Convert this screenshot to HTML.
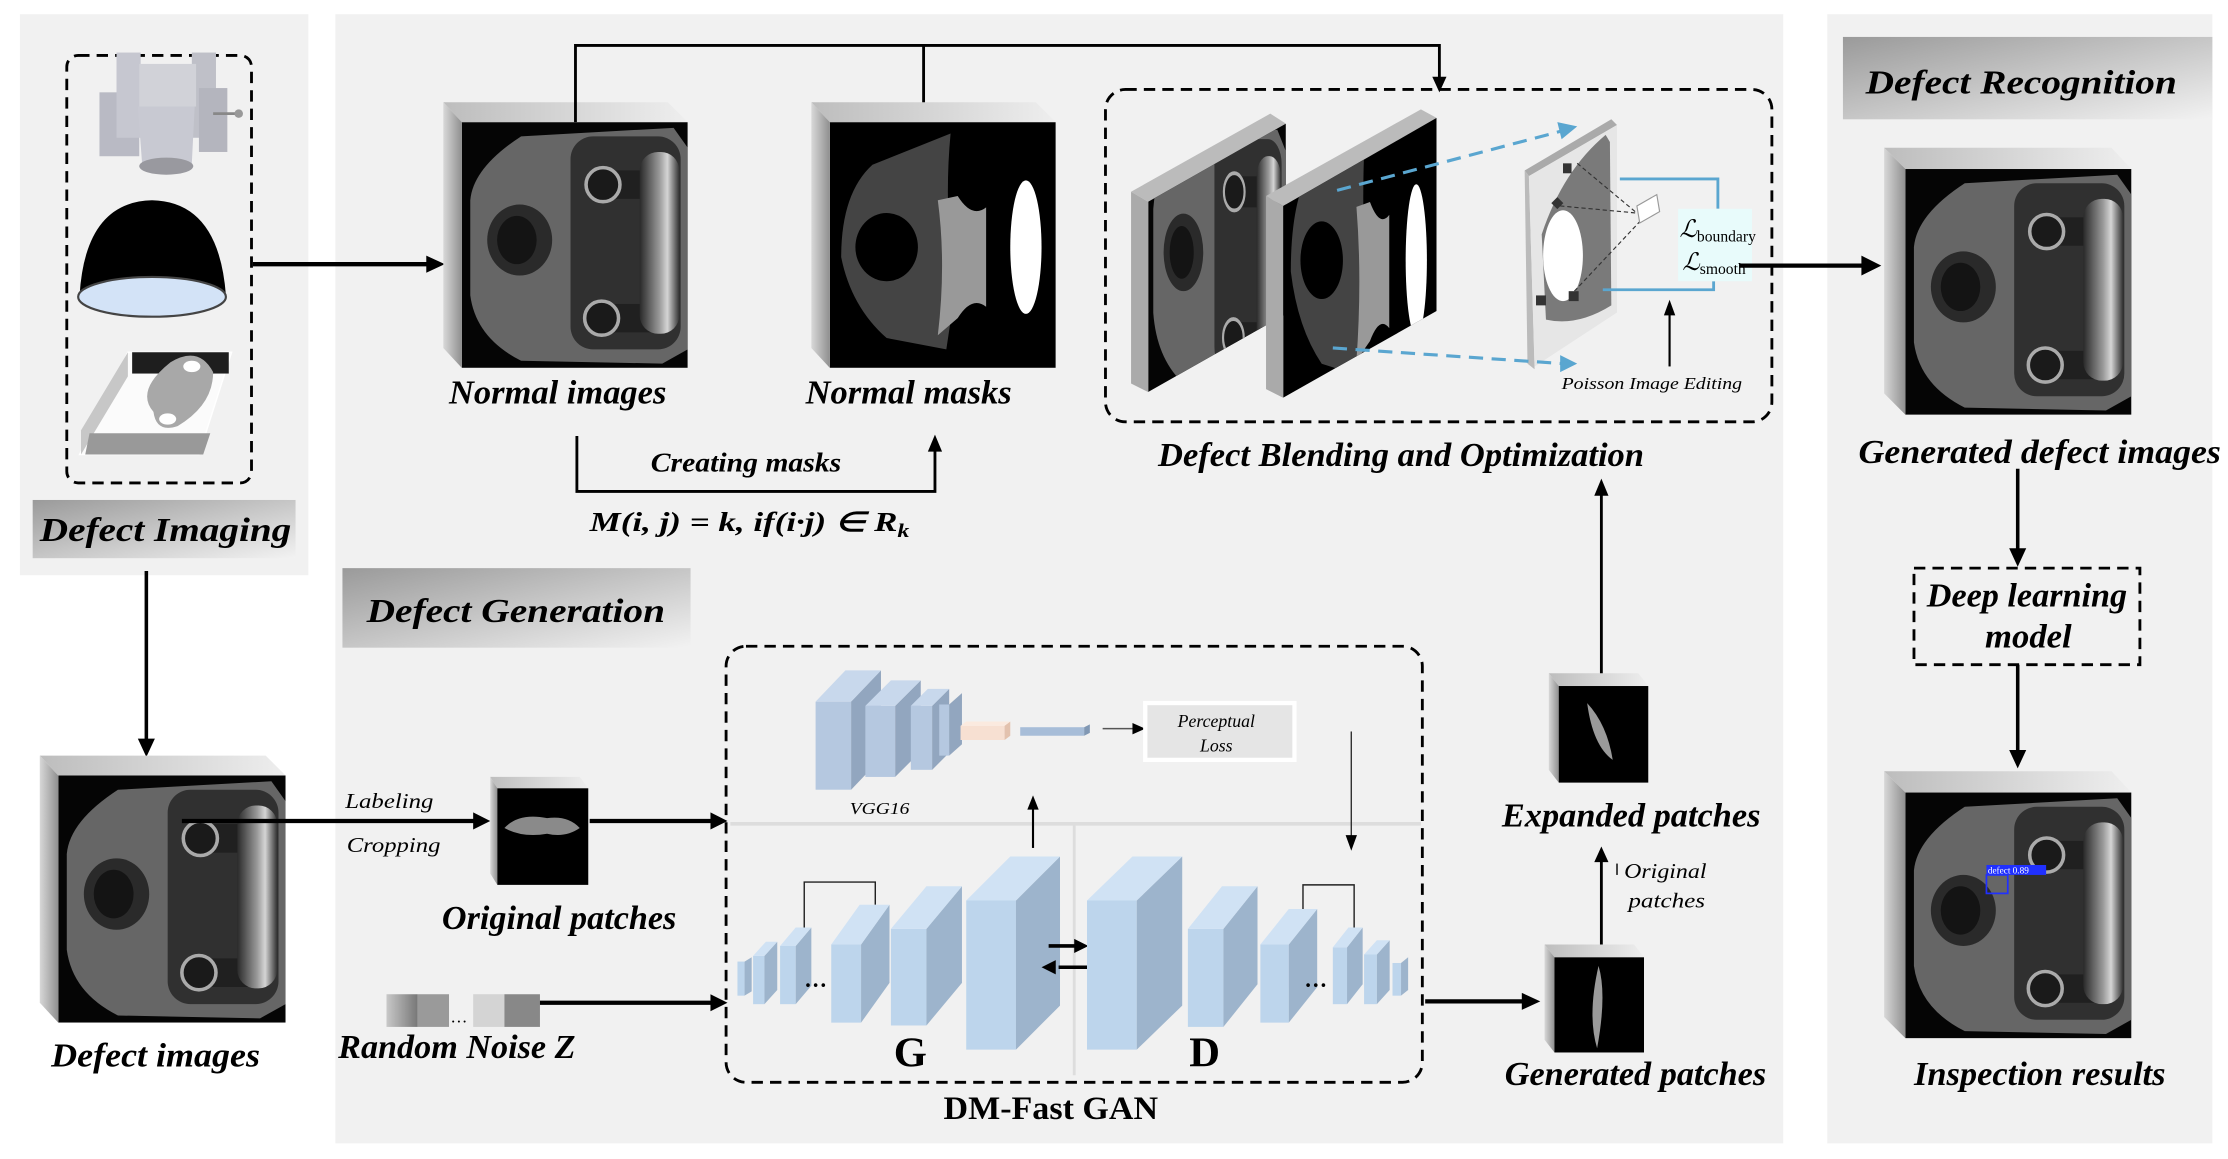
<!DOCTYPE html>
<html><head><meta charset="utf-8"><style>
html,body{margin:0;padding:0;background:#fff;}
svg{display:block;}
text{font-family:"Liberation Serif",serif;}
.lb{font-weight:bold;font-style:italic;font-size:24px;fill:#000;}
.it{font-style:italic;font-size:15px;fill:#000;}
</style></head><body>
<svg width="2228" height="1159" viewBox="0 0 1568 816" preserveAspectRatio="none" xmlns="http://www.w3.org/2000/svg">
<defs>
<linearGradient id="lab" x1="0" y1="0" x2="1" y2="1"><stop offset="0" stop-color="#9a9a9a"/><stop offset="1" stop-color="#f2f2f2"/></linearGradient>
<linearGradient id="topf" x1="0" y1="0" x2="1" y2="0"><stop offset="0" stop-color="#bdbdbd"/><stop offset="1" stop-color="#eeeeee"/></linearGradient>
<linearGradient id="leftf" x1="0" y1="0" x2="1" y2="0"><stop offset="0" stop-color="#d8d8d8"/><stop offset="1" stop-color="#8f8f8f"/></linearGradient>
<linearGradient id="nz" x1="0" y1="0" x2="1" y2="0"><stop offset="0" stop-color="#c8c8c8"/><stop offset="1" stop-color="#777"/></linearGradient>
<linearGradient id="hand" x1="0" y1="0" x2="1" y2="0"><stop offset="0" stop-color="#2a2a2a"/><stop offset="0.5" stop-color="#9a9a9a"/><stop offset="0.7" stop-color="#d5d5d5"/><stop offset="1" stop-color="#333"/></linearGradient>
<symbol id="part" viewBox="0 0 160 173" preserveAspectRatio="none">
<rect width="160" height="173" fill="#050505"/>
<path d="M6,55 Q8,32 42,10 L150,4 L160,18 L160,160 L142,170 L42,168 Q10,152 6,122Z" fill="#666"/>
<ellipse cx="41" cy="83" rx="23" ry="25" fill="#2a2a2a"/>
<ellipse cx="39" cy="83" rx="14" ry="17" fill="#141414"/>
<rect x="77" y="10" width="78" height="150" rx="16" fill="#303030"/>
<rect x="98" y="34" width="38" height="20" fill="#202020"/>
<rect x="98" y="128" width="38" height="20" fill="#202020"/>
<circle cx="100" cy="44" r="12" fill="#1a1a1a" stroke="#aaa" stroke-width="2.5"/>
<circle cx="99" cy="138" r="12" fill="#1a1a1a" stroke="#aaa" stroke-width="2.5"/>
<rect x="126" y="21" width="28" height="128" rx="13" fill="url(#hand)"/>
</symbol>
<symbol id="mask" viewBox="0 0 159 173" preserveAspectRatio="none">
<rect width="159" height="173" fill="#000"/>
<path d="M85,8 Q80,60 88,120 L82,160 L40,152 Q15,130 8,95 Q8,50 30,30Z" fill="#444"/>
<path d="M76,55 L90,52 Q100,68 110,60 L110,130 Q100,122 90,138 L76,150 Q82,100 76,55Z" fill="#999"/>
<ellipse cx="40" cy="88" rx="22" ry="24" fill="#000"/>
<ellipse cx="138" cy="88" rx="11" ry="47" fill="#fff"/>
</symbol>
</defs>

<rect x="14" y="10" width="203" height="395" fill="#f1f1f1"/>
<rect x="236" y="10" width="1019" height="795" fill="#f1f1f1"/>
<rect x="1286" y="10" width="271" height="795" fill="#f1f1f1"/>

<rect x="47" y="39" width="130" height="301" rx="8" fill="none" stroke="#000" stroke-width="2" stroke-dasharray="8 5"/>
<g>
<rect x="70" y="65" width="28" height="45" fill="#b9bac4"/>
<rect x="82" y="37" width="17" height="60" fill="#c6c7d0"/>
<rect x="135" y="37" width="17" height="60" fill="#bfc0c8"/>
<rect x="140" y="62" width="20" height="45" fill="#b4b5be"/>
<rect x="98" y="45" width="40" height="30" fill="#d1d2d8"/>
<path d="M97,75 L137,75 L135,115 L100,115Z" fill="#c8c9d2"/>
<ellipse cx="117" cy="117" rx="19" ry="6" fill="#99999f"/>
<line x1="150" y1="80" x2="168" y2="80" stroke="#888" stroke-width="2"/>
<circle cx="168" cy="80" r="3" fill="#999"/>
</g>
<path d="M56,208 Q60,142 107,141 Q154,142 159,208Z" fill="#000"/>
<ellipse cx="107" cy="209" rx="52" ry="14" fill="#d3e3f7" stroke="#444" stroke-width="1.5"/>
<path d="M90,248 L163,248 L140,320 L56,320Z" fill="#fbfbfb" stroke="#fff"/>
<rect x="93" y="248" width="68" height="15" fill="#1e1e1e"/>
<path d="M90,248 L57,303 L57,320 L90,265Z" fill="#c7c7c7"/>
<path d="M63,305 L148,305 L143,320 L60,320Z" fill="#999"/>
<path d="M108,290 Q95,275 120,255 Q140,243 150,262 Q150,285 125,300 Q110,305 108,290Z" fill="#a8a8a8"/>
<ellipse cx="135" cy="258" rx="6" ry="4" fill="#fff"/><ellipse cx="118" cy="295" rx="6" ry="4" fill="#fff"/>

<rect x="23" y="352" width="185" height="41" fill="url(#lab)"/>
<text class="lb" x="28" y="381" font-size="26" textLength="177" lengthAdjust="spacingAndGlyphs">Defect Imaging</text>

<line x1="103" y1="402" x2="103" y2="522" stroke="#000" stroke-width="2.5"/>
<path d="M97,520 L103,533 L109,520Z" fill="#000"/>

<path d="M28,532 L187,532 L201,546 L41,546Z" fill="url(#topf)"/>
<path d="M28,532 L41,546 L41,720 L28,706Z" fill="url(#leftf)"/>
<use href="#part" x="41" y="546" width="160" height="174"/>
<text class="lb" x="36" y="751" textLength="147" lengthAdjust="spacingAndGlyphs">Defect  images</text>

<line x1="178" y1="186" x2="302" y2="186" stroke="#000" stroke-width="3"/>
<path d="M300,180 L313,186 L300,192Z" fill="#000"/>

<path d="M312,72 L470,72 L484,86 L325,86Z" fill="url(#topf)"/>
<path d="M312,72 L325,86 L325,259 L312,245Z" fill="url(#leftf)"/>
<use href="#part" x="325" y="86" width="159" height="173"/>
<text class="lb" x="316" y="284" textLength="153" lengthAdjust="spacingAndGlyphs">Normal images</text>

<path d="M571,72 L729,72 L743,86 L584,86Z" fill="url(#topf)"/>
<path d="M571,72 L584,86 L584,259 L571,245Z" fill="url(#leftf)"/>
<use href="#mask" x="584" y="86" width="159" height="173"/>
<text class="lb" x="567" y="284" textLength="145" lengthAdjust="spacingAndGlyphs">Normal masks</text>

<polyline points="405,86 405,32 1013,32 1013,56" fill="none" stroke="#000" stroke-width="2"/>
<line x1="650" y1="32" x2="650" y2="72" stroke="#000" stroke-width="2"/>
<path d="M1008,54 L1013,65 L1018,54Z" fill="#000"/>

<polyline points="406,307 406,346 658,346 658,316" fill="none" stroke="#000" stroke-width="2"/>
<path d="M653,318 L658,306 L663,318Z" fill="#000"/>
<text x="458" y="332" font-size="19" font-style="italic" font-weight="bold" textLength="134" lengthAdjust="spacingAndGlyphs">Creating masks</text>
<text x="415" y="374" font-size="19" font-style="italic" font-weight="bold" textLength="225" lengthAdjust="spacingAndGlyphs">M(i,  j) = k, if(i·j) ∈ R<tspan font-size="13" dy="4">k</tspan></text>

<rect x="778" y="63" width="469" height="234" rx="14" fill="none" stroke="#000" stroke-width="2" stroke-dasharray="8 5"/>
<path d="M796,135 L894,80 L905,87 L808,142Z" fill="#bbb"/>
<path d="M796,135 L808,142 L808,276 L796,270Z" fill="#aaa"/>
<clipPath id="cp1"><path d="M808,142 L905,87 L905,221 L808,276Z"/></clipPath>
<g clip-path="url(#cp1)"><use href="#part" x="808" y="87" width="97" height="189"/></g>
<path d="M891,138 L1000,77 L1011,83 L903,145Z" fill="#bbb"/>
<path d="M891,138 L903,145 L903,280 L891,274Z" fill="#aaa"/>
<clipPath id="cp2"><path d="M903,145 L1011,83 L1011,219 L903,280Z"/></clipPath>
<g clip-path="url(#cp2)"><use href="#mask" x="903" y="83" width="108" height="197"/></g>
<path d="M1073,120 L1134,84 L1138,88 L1076,124Z" fill="#aaa"/>
<path d="M1073,120 L1076,124 L1080,260 L1075,256Z" fill="#bbb"/>
<path d="M1076,124 L1138,88 L1138,220 L1080,258Z" fill="#e6e6e6"/>
<path d="M1085,165 Q1100,120 1130,95 L1133,100 L1134,215 Q1110,230 1088,225 Z" fill="#7a7a7a"/>
<ellipse cx="1100" cy="180" rx="14" ry="32" fill="#fff"/>
<rect x="1100" y="115" width="6" height="7" fill="#333"/><rect x="1093" y="140" width="6" height="6" fill="#333" transform="rotate(45 1096 143)"/>
<rect x="1081" y="208" width="7" height="7" fill="#333"/><rect x="1104" y="205" width="7" height="7" fill="#333"/>
<path d="M1098,145 L1152,150 M1110,115 L1152,150 M1108,205 L1155,155" stroke="#333" stroke-width="0.8" stroke-dasharray="3 2"/>
<path d="M1152,145 L1166,137 L1168,149 L1154,157Z" fill="#fff" stroke="#999" stroke-width="0.8"/>
<line x1="941" y1="134" x2="1100" y2="92" stroke="#5aa6d0" stroke-width="2.2" stroke-dasharray="10 6"/>
<path d="M1096,86 L1110,89 L1099,98Z" fill="#5aa6d0"/>
<line x1="938" y1="245" x2="1100" y2="256" stroke="#5aa6d0" stroke-width="2.2" stroke-dasharray="10 6"/>
<path d="M1098,250 L1110,256 L1098,262Z" fill="#5aa6d0"/>
<polyline points="1140,126 1209,126 1209,147" fill="none" stroke="#5aa6d0" stroke-width="2"/>
<polyline points="1128,204 1206,204 1206,198" fill="none" stroke="#5aa6d0" stroke-width="2"/>
<rect x="1181" y="147" width="52" height="51" fill="#e8fbfb"/>
<text x="1182" y="167" font-size="17" font-style="italic">ℒ<tspan font-size="11" font-style="normal" dy="3">boundary</tspan></text>
<text x="1184" y="190" font-size="17" font-style="italic">ℒ<tspan font-size="11" font-style="normal" dy="3">smooth</tspan></text>
<line x1="1175" y1="258" x2="1175" y2="220" stroke="#000" stroke-width="1.5"/>
<path d="M1171,222 L1175,211 L1179,222Z" fill="#000"/>
<text x="1099" y="274" font-size="11.5" font-style="italic" textLength="127" lengthAdjust="spacingAndGlyphs">Poisson Image Editing</text>
<text class="lb" x="815" y="328" font-size="23" textLength="342" lengthAdjust="spacingAndGlyphs">Defect Blending and Optimization</text>

<line x1="1224" y1="187" x2="1312" y2="187" stroke="#000" stroke-width="3"/>
<path d="M1310,180 L1324,187 L1310,194Z" fill="#000"/>

<rect x="1297" y="26" width="260" height="58" fill="url(#lab)"/>
<text class="lb" x="1313" y="66" font-size="27" textLength="219" lengthAdjust="spacingAndGlyphs">Defect Recognition</text>

<path d="M1326,104 L1486,104 L1500,119 L1341,119Z" fill="url(#topf)"/>
<path d="M1326,104 L1341,119 L1341,292 L1326,277Z" fill="url(#leftf)"/>
<use href="#part" x="1341" y="119" width="159" height="173"/>
<text class="lb" x="1308" y="326" textLength="255" lengthAdjust="spacingAndGlyphs">Generated  defect  images</text>
<line x1="1420" y1="330" x2="1420" y2="388" stroke="#000" stroke-width="2.5"/>
<path d="M1414,386 L1420,399 L1426,386Z" fill="#000"/>
<rect x="1347" y="400" width="159" height="68" fill="none" stroke="#000" stroke-width="2" stroke-dasharray="8 5"/>
<text class="lb" x="1356" y="427" textLength="141" lengthAdjust="spacingAndGlyphs">Deep learning</text>
<text class="lb" x="1397" y="456" textLength="61" lengthAdjust="spacingAndGlyphs">model</text>
<line x1="1420" y1="468" x2="1420" y2="530" stroke="#000" stroke-width="2.5"/>
<path d="M1414,528 L1420,541 L1426,528Z" fill="#000"/>

<path d="M1326,543 L1486,543 L1500,558 L1341,558Z" fill="url(#topf)"/>
<path d="M1326,543 L1341,558 L1341,731 L1326,716Z" fill="url(#leftf)"/>
<use href="#part" x="1341" y="558" width="159" height="173"/>
<rect x="1398" y="616" width="15" height="13" fill="none" stroke="#2030ff" stroke-width="1.2"/>
<rect x="1398" y="609" width="42" height="7" fill="#2030ff"/>
<text x="1399" y="615" font-size="6.5" fill="#fff" font-family="Liberation Sans">defect 0.89</text>
<text class="lb" x="1347" y="764" textLength="177" lengthAdjust="spacingAndGlyphs">Inspection results</text>

<rect x="241" y="400" width="245" height="56" fill="url(#lab)"/>
<text class="lb" x="258" y="438" font-size="27" textLength="210" lengthAdjust="spacingAndGlyphs">Defect Generation</text>

<line x1="128" y1="578" x2="335" y2="578" stroke="#000" stroke-width="3"/>
<path d="M333,572 L345,578 L333,584Z" fill="#000"/>
<text class="it" x="243" y="569" textLength="62" lengthAdjust="spacingAndGlyphs">Labeling</text>
<text class="it" x="244" y="600" textLength="66" lengthAdjust="spacingAndGlyphs">Cropping</text>

<path d="M345,547 L408,547 L414,555 L350,555Z" fill="url(#topf)"/>
<path d="M345,547 L350,555 L350,623 L345,615Z" fill="url(#leftf)"/>
<rect x="350" y="555" width="64" height="68" fill="#000"/>
<path d="M355,583 Q365,572 385,576 Q400,574 408,583 Q398,590 385,587 Q368,590 355,583Z" fill="#8a8a8a"/>
<text class="lb" x="311" y="654" textLength="165" lengthAdjust="spacingAndGlyphs">Original patches</text>
<line x1="415" y1="578" x2="502" y2="578" stroke="#000" stroke-width="3"/>
<path d="M500,572 L512,578 L500,584Z" fill="#000"/>

<rect x="272" y="700" width="22" height="23" fill="url(#nz)"/>
<rect x="294" y="700" width="22" height="23" fill="#9a9a9a"/>
<text x="317" y="720" font-size="12">…</text>
<rect x="333" y="700" width="22" height="23" fill="#d4d4d4"/>
<rect x="355" y="700" width="25" height="23" fill="#888"/>
<line x1="380" y1="706" x2="502" y2="706" stroke="#000" stroke-width="3"/>
<path d="M500,700 L512,706 L500,712Z" fill="#000"/>
<text class="lb" x="238" y="745" textLength="167" lengthAdjust="spacingAndGlyphs">Random Noise Z</text>

<rect x="511" y="455" width="490" height="307" rx="14" fill="none" stroke="#000" stroke-width="2" stroke-dasharray="8 5"/>
<line x1="514" y1="580" x2="1000" y2="580" stroke="#ddd" stroke-width="2.5"/>
<line x1="756" y1="580" x2="756" y2="757" stroke="#ddd" stroke-width="2"/>

<g>
<rect x="574" y="494" width="25" height="62" fill="#b5c8e0"/><path d="M599,494 L620,472 L620,534 L599,556Z" fill="#92a6bf"/><path d="M574,494 L595,472 L620,472 L599,494Z" fill="#c8d8ec"/>
<rect x="609" y="497" width="21" height="50" fill="#b5c8e0"/><path d="M630,497 L648,479 L648,529 L630,547Z" fill="#92a6bf"/><path d="M609,497 L627,479 L648,479 L630,497Z" fill="#c8d8ec"/>
<rect x="641" y="497" width="15" height="45" fill="#b5c8e0"/><path d="M656,497 L668,485 L668,530 L656,542Z" fill="#92a6bf"/><path d="M641,497 L653,485 L668,485 L656,497Z" fill="#c8d8ec"/>
<rect x="661" y="496" width="7" height="36" fill="#b5c8e0"/><path d="M668,496 L677,488 L677,524 L668,532Z" fill="#92a6bf"/>
<rect x="676" y="511" width="31" height="10" fill="#f7e0d2"/><path d="M707,511 L711,508 L711,518 L707,521Z" fill="#e3c2ae"/><path d="M676,511 L680,508 L711,508 L707,511Z" fill="#fbeadf"/>
<rect x="718" y="512" width="45" height="6" fill="#a7bdd8"/><path d="M763,512 L767,510 L767,516 L763,518Z" fill="#8198b4"/>
</g>
<line x1="776" y1="513" x2="798" y2="513" stroke="#555" stroke-width="1"/>
<path d="M797,509 L806,513 L797,517Z" fill="#000"/>
<text x="598" y="573" font-size="12" font-style="italic" textLength="42" lengthAdjust="spacingAndGlyphs">VGG16</text>
<rect x="806" y="495" width="105" height="40" fill="#e5e5e5" stroke="#fff" stroke-width="3"/>
<text x="856" y="512" font-size="12.5" font-style="italic" text-anchor="middle">Perceptual</text>
<text x="856" y="529" font-size="12.5" font-style="italic" text-anchor="middle">Loss</text>
<line x1="951" y1="515" x2="951" y2="590" stroke="#333" stroke-width="1"/>
<path d="M947,588 L951,599 L955,588Z" fill="#000"/>
<line x1="727" y1="597" x2="727" y2="568" stroke="#000" stroke-width="1.5"/>
<path d="M723,570 L727,560 L731,570Z" fill="#000"/>

<g>
<rect x="519" y="677" width="5" height="24" fill="#bdd5ec"/><path d="M524,677 L529,674 L529,698 L524,701Z" fill="#9db4cc"/>
<rect x="530" y="673" width="8" height="34" fill="#bdd5ec"/><path d="M538,673 L547,663 L547,697 L538,707Z" fill="#9db4cc"/><path d="M530,673 L539,663 L547,663 L538,673Z" fill="#d0e2f4"/>
<rect x="549" y="666" width="11" height="41" fill="#bdd5ec"/><path d="M560,666 L571,653 L571,694 L560,707Z" fill="#9db4cc"/><path d="M549,666 L560,653 L571,653 L560,666Z" fill="#d0e2f4"/>
<polyline points="566,653 566,621 616,621 616,637" fill="none" stroke="#222" stroke-width="1"/>
<text x="566" y="695" font-size="16" font-weight="bold">…</text>
<rect x="585" y="665" width="21" height="55" fill="#bdd5ec"/><path d="M606,665 L626,637 L626,692 L606,720Z" fill="#9db4cc"/><path d="M585,665 L605,637 L626,637 L606,665Z" fill="#d0e2f4"/>
<rect x="627" y="654" width="25" height="68" fill="#bdd5ec"/><path d="M652,654 L677,624 L677,692 L652,722Z" fill="#9db4cc"/><path d="M627,654 L652,624 L677,624 L652,654Z" fill="#d0e2f4"/>
<rect x="680" y="634" width="35" height="105" fill="#bdd5ec"/><path d="M715,634 L746,603 L746,708 L715,739Z" fill="#9db4cc"/><path d="M680,634 L711,603 L746,603 L715,634Z" fill="#d0e2f4"/>
</g>
<line x1="738" y1="666" x2="758" y2="666" stroke="#000" stroke-width="2.5"/><path d="M756,661 L766,666 L756,671Z" fill="#000"/>
<line x1="745" y1="681" x2="765" y2="681" stroke="#000" stroke-width="2.5"/><path d="M743,676 L733,681 L743,686Z" fill="#000"/>
<g>
<rect x="765" y="634" width="35" height="105" fill="#bdd5ec"/><path d="M800,634 L832,603 L832,708 L800,739Z" fill="#9db4cc"/><path d="M765,634 L797,603 L832,603 L800,634Z" fill="#d0e2f4"/>
<rect x="836" y="654" width="25" height="69" fill="#bdd5ec"/><path d="M861,654 L885,624 L885,693 L861,723Z" fill="#9db4cc"/><path d="M836,654 L860,624 L885,624 L861,654Z" fill="#d0e2f4"/>
<rect x="887" y="665" width="20" height="55" fill="#bdd5ec"/><path d="M907,665 L927,640 L927,695 L907,720Z" fill="#9db4cc"/><path d="M887,665 L907,640 L927,640 L907,665Z" fill="#d0e2f4"/>
<polyline points="917,640 917,623 953,623 953,655" fill="none" stroke="#222" stroke-width="1"/>
<text x="918" y="695" font-size="16" font-weight="bold">…</text>
<rect x="938" y="667" width="10" height="40" fill="#bdd5ec"/><path d="M948,667 L959,653 L959,693 L948,707Z" fill="#9db4cc"/><path d="M938,667 L949,653 L959,653 L948,667Z" fill="#d0e2f4"/>
<rect x="960" y="672" width="9" height="35" fill="#bdd5ec"/><path d="M969,672 L978,662 L978,697 L969,707Z" fill="#9db4cc"/><path d="M960,672 L969,662 L978,662 L969,672Z" fill="#d0e2f4"/>
<rect x="980" y="678" width="6" height="23" fill="#bdd5ec"/><path d="M986,678 L991,674 L991,697 L986,701Z" fill="#9db4cc"/>
</g>
<text x="629" y="751" font-size="30" font-weight="bold">G</text>
<text x="837" y="751" font-size="30" font-weight="bold">D</text>
<text x="664" y="788" font-size="23" font-weight="bold" textLength="151" lengthAdjust="spacingAndGlyphs">DM-Fast GAN</text>

<line x1="1003" y1="705" x2="1073" y2="705" stroke="#000" stroke-width="3"/>
<path d="M1071,699 L1084,705 L1071,711Z" fill="#000"/>

<path d="M1087,665 L1150,665 L1157,674 L1094,674Z" fill="url(#topf)"/>
<path d="M1087,665 L1094,674 L1094,741 L1087,732Z" fill="url(#leftf)"/>
<rect x="1094" y="674" width="63" height="67" fill="#000"/>
<path d="M1125,680 Q1131,700 1124,738 Q1117,715 1125,680Z" fill="#9a9a9a"/>
<text class="lb" x="1059" y="764" textLength="184" lengthAdjust="spacingAndGlyphs">Generated patches</text>
<line x1="1127" y1="665" x2="1127" y2="605" stroke="#000" stroke-width="2"/>
<path d="M1122,607 L1127,596 L1132,607Z" fill="#000"/>
<line x1="1138" y1="608" x2="1138" y2="616" stroke="#000" stroke-width="1"/>
<text class="it" x="1143" y="618" textLength="58" lengthAdjust="spacingAndGlyphs">Original</text>
<text class="it" x="1146" y="639" textLength="54" lengthAdjust="spacingAndGlyphs">patches</text>

<path d="M1090,474 L1153,474 L1160,483 L1097,483Z" fill="url(#topf)"/>
<path d="M1090,474 L1097,483 L1097,551 L1090,542Z" fill="url(#leftf)"/>
<rect x="1097" y="483" width="63" height="68" fill="#000"/>
<path d="M1117,495 Q1131,510 1135,535 Q1121,525 1117,495Z" fill="#9a9a9a"/>
<text class="lb" x="1057" y="582" textLength="182" lengthAdjust="spacingAndGlyphs">Expanded patches</text>
<line x1="1127" y1="474" x2="1127" y2="347" stroke="#000" stroke-width="2"/>
<path d="M1122,349 L1127,337 L1132,349Z" fill="#000"/>
</svg>
</body></html>
